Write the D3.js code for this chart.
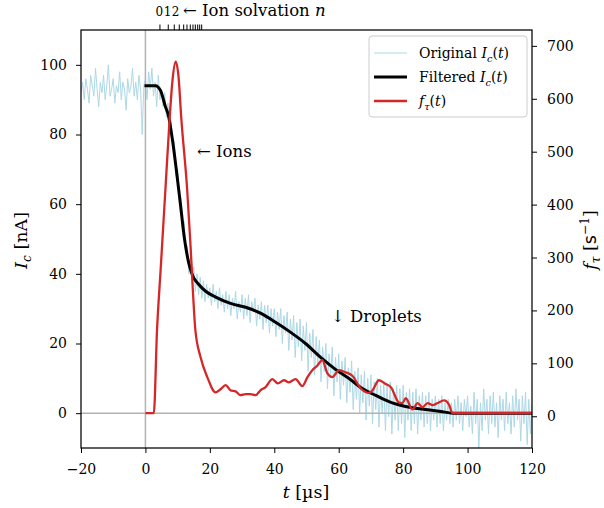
<!DOCTYPE html>
<html><head><meta charset="utf-8">
<script src="https://cdn.jsdelivr.net/npm/d3@7"></script>
<style>
body{margin:0;background:#fff}
svg{display:block}
text{font-family:"DejaVu Serif",serif;fill:#000}
</style>
</head><body>
<svg id="c" width="604" height="508"></svg>
<script>
// ---------- data ----------
const xTicks = [-20, 0, 20, 40, 60, 80, 100, 120];
const leftTicks = [0, 20, 40, 60, 80, 100];
const rightTicks = [0, 100, 200, 300, 400, 500, 600, 700];
const solvTicks = [4.35, 6.93, 8.80, 10.35, 11.72, 12.74, 13.77, 14.61, 15.33, 16.07, 16.69, 17.31];
const solvLabels = ["0", "1", "2"];

// original (noisy) current, sampled every 0.5 µs from -20 to 120
const origStart = -20, origEnd = 120;
const origPre = [92, 95, 90, 96, 93, 89, 97, 94, 91, 99, 93, 88, 95, 92, 97, 90, 94, 100, 91, 93,
  96, 89, 94, 92, 98, 90, 95, 93, 87, 96, 92, 94, 99, 91, 95, 90, 97, 93, 80, 94];
const origStartPhase = [96, 90, 98, 93, 99, 91, 95, 88, 97, 90];
const origDecay = [
  93, 88, 92, 85, 89, 82, 84, 76, 78, 68,
  70, 61, 62, 52, 55, 46, 48, 40, 45, 37,
  42, 35, 40, 34, 39, 33, 38, 32, 37, 33,
  36, 31, 37, 32, 35, 30, 36, 31, 34, 29,
  35, 30, 34, 28, 33, 30, 35, 27, 32, 29,
  34, 27, 33, 28, 34, 26, 32, 29, 33, 25,
  31, 27, 32, 24, 31, 26, 31, 23, 30, 25,
  30, 22, 29, 24, 30, 20, 28, 23, 29, 18,
  27, 21, 28, 16, 26, 19, 27, 15, 25, 18,
  26, 12, 23, 16, 24, 11, 22, 14, 21, 9,
  19, 12, 20, 7, 17, 11, 19, 5, 16, 9,
  17, 4, 15, 8, 16, 3, 13, 6, 15, 1,
  12, 4, 13, 0, 11, 3, 12, -2, 10, 2,
  11, -3, 9, 1, 10, -4, 8, 0, 9, -5,
  8, -1, 9, -6, 7, -2, 8, -5, 7, -3,
  8, -7, 6, -2, 7, -5, 6, -3, 7, -6,
  5, -2, 6, -4, 5, -3, 6, -5, 4, -2,
  5, -4, 4, -3, 5, -5, 3, -2, 4, -3,
  3, -4, 4, -2, 5, -3, 3, -5, 4, -1,
  5, -4, 2, -6, 6, -3, 4, -10, 3, -5,
  7, -2, 4, -6, 5, -3, 6, -4, 3, -7,
  5, -2, 4, -5, 6, -3, 3, -6, 5, -4,
  7, -2, 4, -8, 5, -3, 6, -9, 4, -6,
  3];

// filtered current
const filtT = [-0.3, 3.1, 4.7, 6.2, 7.1, 8.4, 9.6, 10.9, 12.1, 13.4, 14.6, 16.5, 18.7, 21.8, 26.4, 31.1, 35.7, 40.4, 45.1, 49.7, 54.4, 59.1, 63.7, 66.8, 71.5, 76.2, 78.3, 82.4, 87.7, 91.7, 95.4, 120];
const filtV = [94, 94, 92.6, 88, 85.6, 78.4, 69.8, 59.7, 50.2, 43.3, 39.6, 37, 35, 33.3, 31.5, 30.4, 28.7, 26.1, 23.2, 20, 16, 12.5, 9.6, 7.4, 5.1, 3.1, 2.5, 1.6, 1.0, 0.5, 0, 0];

// f_tau
const fT = [0, 2.6, 3.6, 4.7, 6.2, 7.55, 8.4, 9.4, 10.3, 11.1, 12.96, 14.0, 15.5, 17.1, 19.2, 21.8, 23.3, 24.9, 26.4, 28.0, 29.5, 31.1, 32.6, 34.2, 35.7, 37.3, 39.4, 41.1, 43.0, 44.5, 46.6, 48.7, 50.3, 51.8, 53.4, 54.9, 56.5, 58.0, 60.1, 62.2, 64.3, 66.8, 69.4, 70.5, 72.5, 74.6, 76.2, 78.7, 79.8, 80.8, 82.9, 84.5, 86.0, 87.6, 89.1, 90.7, 92.7, 94.3, 95.3, 120];
const fV = [6, 6, 163, 275, 428, 566, 635, 670, 640, 566, 428, 322, 163, 112, 74, 45, 51, 59, 49, 47, 40, 42, 42, 40, 49, 55, 70, 62, 68, 64, 70, 57, 74, 87, 96, 106, 81, 74, 87, 83, 76, 53, 44, 49, 68, 61, 55, 26, 25, 34, 13, 25, 17, 25, 21, 25, 30, 21, 6, 6];

// ---------- layout ----------
const L = 81, R = 532, T = 30, B = 448;
const svg = d3.select("#c");
const x = d3.scaleLinear().domain([-20, 120]).range([L, R]);
const yL = d3.scaleLinear().domain([-10, 110]).range([B, T]);
const yR = d3.scaleLinear().domain([-60, 730]).range([B, T]);

svg.append("defs").append("clipPath").attr("id", "clip")
  .append("rect").attr("x", L).attr("y", T).attr("width", R - L).attr("height", B - T);
const g = svg.append("g").attr("clip-path", "url(#clip)");

// original
const orig = origPre.concat(origStartPhase, origDecay);
const origT = orig.map((_, i) => origStart + i * (origEnd - origStart) / (orig.length - 1));
g.append("path").datum(orig)
  .attr("d", d3.line().x((d, i) => x(origT[i])).y(d => yL(d)))
  .attr("fill", "none").attr("stroke", "#add8e6").attr("stroke-width", 1);

// reference lines
g.append("line").attr("x1", x(0)).attr("x2", x(0)).attr("y1", T).attr("y2", B)
  .attr("stroke", "#b3b3b3").attr("stroke-width", 1.5);
g.append("line").attr("x1", L).attr("x2", R).attr("y1", yL(0)).attr("y2", yL(0))
  .attr("stroke", "#b3b3b3").attr("stroke-width", 1.5);

// filtered
g.append("path").datum(filtV)
  .attr("d", d3.line().curve(d3.curveMonotoneX).x((d, i) => x(filtT[i])).y(d => yL(d)))
  .attr("fill", "none").attr("stroke", "#000").attr("stroke-width", 3).attr("stroke-linejoin", "round");

// f_tau
g.append("path").datum(fV)
  .attr("d", d3.line().curve(d3.curveMonotoneX).x((d, i) => x(fT[i])).y(d => yR(d)))
  .attr("fill", "none").attr("stroke", "#d62728").attr("stroke-width", 2.3).attr("stroke-linejoin", "round");

// ---------- axes ----------
const fmt = d3.format("d");
function styleAxis(sel) {
  sel.select(".domain").remove();
  sel.selectAll(".tick line").attr("stroke", "#000").attr("stroke-width", 1);
  sel.selectAll(".tick text").attr("font-family", "DejaVu Serif").attr("font-size", 14).attr("fill", "#000");
}
svg.append("g").attr("transform", `translate(0,${B})`)
  .call(d3.axisBottom(x).tickValues(xTicks).tickFormat(fmt).tickSize(5).tickPadding(11)).call(styleAxis);
svg.append("g").attr("transform", `translate(${L},0)`)
  .call(d3.axisLeft(yL).tickValues(leftTicks).tickFormat(fmt).tickSize(5).tickPadding(9)).call(styleAxis);
svg.append("g").attr("transform", `translate(${R},0)`)
  .call(d3.axisRight(yR).tickValues(rightTicks).tickFormat(fmt).tickSize(5).tickPadding(10)).call(styleAxis);
const topAx = svg.append("g").attr("transform", `translate(0,${T})`)
  .call(d3.axisTop(x).tickValues(solvTicks).tickFormat((d, i) => solvLabels[i] || "").tickSize(5.5).tickPadding(9));
styleAxis(topAx);
topAx.selectAll(".tick text").attr("font-size", 12).attr("dx", (d, i) => [-0.6, -0.8, 1.2][i] || 0);

// frame
svg.append("rect").attr("x", L).attr("y", T).attr("width", R - L).attr("height", B - T)
  .attr("fill", "none").attr("stroke", "#000").attr("stroke-width", 1.25);

// ---------- rich text helper ----------
function rich(sel, parts, fs) {
  let shift = 0;
  parts.forEach(p => {
    const ts = sel.append("tspan").text(p.t);
    const target = p.sub ? fs * 0.25 : p.sup ? -fs * 0.42 : 0;
    if (target - shift !== 0) ts.attr("dy", target - shift);
    shift = target;
    if (p.sub || p.sup) ts.attr("font-size", fs * 0.7);
    if (p.i) ts.attr("font-style", "italic");
    if (p.sans) ts.attr("font-family", "DejaVu Sans");
  });
}

// axis labels
const labFs = 17.5;
rich(svg.append("text").attr("transform", "translate(27,240.5) rotate(-90)").attr("text-anchor", "middle").attr("font-size", labFs),
  [{t: "I", i: true}, {t: "c", i: true, sub: true}, {t: " [nA]"}], labFs);
rich(svg.append("text").attr("x", 306).attr("y", 498).attr("text-anchor", "middle").attr("font-size", labFs),
  [{t: "t", i: true}, {t: " [µs]"}], labFs);
rich(svg.append("text").attr("transform", "translate(596,240) rotate(-90)").attr("text-anchor", "middle").attr("font-size", labFs),
  [{t: "f", i: true}, {t: "τ", i: true, sub: true}, {t: " ["}, {t: "s", sans: true}, {t: "−1", sup: true}, {t: "]"}], labFs);

// annotations
const annFs = 16.5;
svg.append("text").attr("x", 197).attr("y", 156.5).attr("font-size", annFs).text("← Ions");
svg.append("text").attr("x", 331).attr("y", 321.5).attr("font-size", annFs).text("↓ Droplets");
rich(svg.append("text").attr("x", 183).attr("y", 15.5).attr("font-size", annFs),
  [{t: "← Ion solvation "}, {t: "n", i: true}], annFs);

// ---------- legend ----------
const lg = svg.append("g");
lg.append("rect").attr("x", 369).attr("y", 36).attr("width", 158).attr("height", 81).attr("rx", 3)
  .attr("fill", "#fff").attr("fill-opacity", 0.8).attr("stroke", "#cccccc").attr("stroke-width", 1);
const legItems = [
  {color: "#add8e6", w: 1, y: 53, parts: [{t: "Original "}, {t: "I", i: true}, {t: "c", i: true, sub: true}, {t: "("}, {t: "t", i: true}, {t: ")"}]},
  {color: "#000", w: 3, y: 77, parts: [{t: "Filtered "}, {t: "I", i: true}, {t: "c", i: true, sub: true}, {t: "("}, {t: "t", i: true}, {t: ")"}]},
  {color: "#d62728", w: 2.3, y: 101, parts: [{t: "f", i: true}, {t: "τ", i: true, sub: true}, {t: "("}, {t: "t", i: true}, {t: ")"}]}
];
const legFs = 14;
legItems.forEach(it => {
  lg.append("line").attr("x1", 374).attr("x2", 407).attr("y1", it.y).attr("y2", it.y)
    .attr("stroke", it.color).attr("stroke-width", it.w);
  rich(lg.append("text").attr("x", 419).attr("y", it.y + 5).attr("font-size", legFs), it.parts, legFs);
});
</script>
</body></html>
